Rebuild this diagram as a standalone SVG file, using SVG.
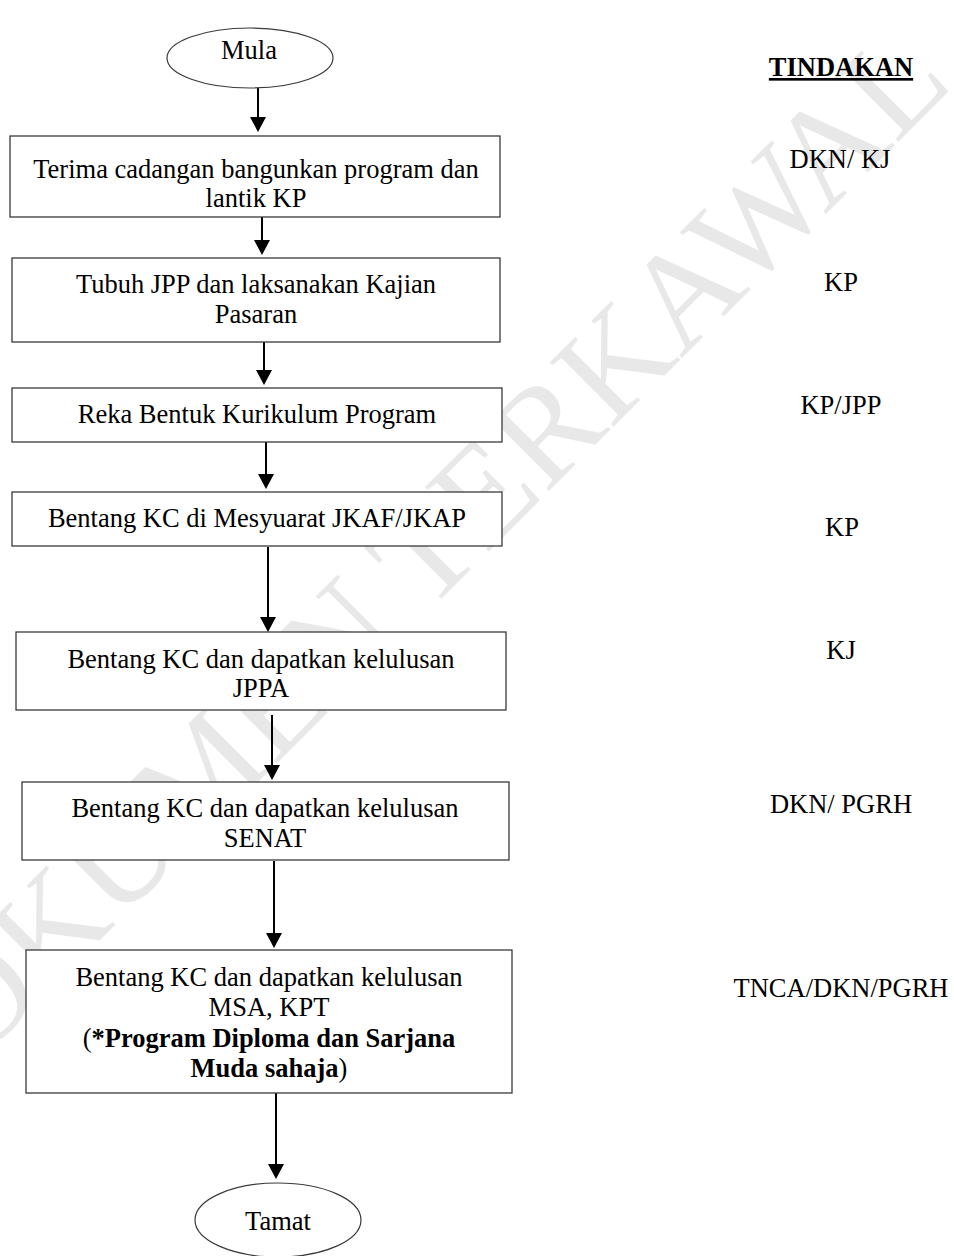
<svg xmlns="http://www.w3.org/2000/svg" width="954" height="1256" viewBox="0 0 954 1256">
<style>
text{font-family:"Liberation Serif","Times New Roman",serif;font-size:26.5px;fill:#000;text-anchor:middle}
.wm{font-size:138px;fill:#e8e8e8;text-anchor:start}
.box{fill:#fff;stroke:#3a3a3a;stroke-width:1.3}
.term{fill:#fff;stroke:#3a3a3a;stroke-width:1.2}
.conn line{stroke:#000;stroke-width:2}
.conn polygon{fill:#000}
.b{font-weight:bold}
</style>
<rect width="954" height="1256" fill="#fff"/>
<text class="wm" transform="translate(-95,1135) rotate(-45)">DOKUMEN TERKAWAL</text>

<g id="connectors" class="conn">
<line x1="258" y1="88" x2="258" y2="118"/><polygon points="250,117 266,117 258,132"/>
<line x1="262" y1="217" x2="262" y2="241"/><polygon points="254,240 270,240 262,255"/>
<line x1="264" y1="342" x2="264" y2="371"/><polygon points="256,370 272,370 264,385"/>
<line x1="266" y1="442" x2="266" y2="475"/><polygon points="258,474 274,474 266,489"/>
<line x1="268" y1="547" x2="268" y2="618"/><polygon points="260,617 276,617 268,632"/>
<line x1="272" y1="715" x2="272" y2="766"/><polygon points="264,765 280,765 272,780"/>
<line x1="274" y1="861" x2="274" y2="934"/><polygon points="266,933 282,933 274,948"/>
<line x1="276" y1="1093" x2="276" y2="1165"/><polygon points="268,1164 284,1164 276,1179"/>
</g>

<g id="mula">
<ellipse class="term" cx="250" cy="58" rx="83" ry="30"/>
<text x="249" y="59">Mula</text>
</g>

<g id="step1">
<rect class="box" x="10" y="136" width="490" height="81"/>
<text x="256" y="178">Terima cadangan bangunkan program dan</text>
<text x="256" y="207">lantik KP</text>
</g>

<g id="step2">
<rect class="box" x="12" y="258" width="488" height="84"/>
<text x="256" y="293">Tubuh JPP dan laksanakan Kajian</text>
<text x="256" y="323">Pasaran</text>
</g>

<g id="step3">
<rect class="box" x="12" y="388" width="490" height="54"/>
<text x="257" y="423">Reka Bentuk Kurikulum Program</text>
</g>

<g id="step4">
<rect class="box" x="12" y="492" width="490" height="54"/>
<text x="257" y="527">Bentang KC di Mesyuarat JKAF/JKAP</text>
</g>

<g id="step5">
<rect class="box" x="16" y="632" width="490" height="78"/>
<text x="261" y="668">Bentang KC dan dapatkan kelulusan</text>
<text x="261" y="697">JPPA</text>
</g>

<g id="step6">
<rect class="box" x="22" y="782" width="487" height="78"/>
<text x="265" y="817">Bentang KC dan dapatkan kelulusan</text>
<text x="265" y="847">SENAT</text>
</g>

<g id="step7">
<rect class="box" x="26" y="950" width="486" height="143"/>
<text x="269" y="986">Bentang KC dan dapatkan kelulusan</text>
<text x="269" y="1016">MSA, KPT</text>
<text x="269" y="1047">(<tspan class="b">*Program Diploma dan Sarjana</tspan></text>
<text x="269" y="1077"><tspan class="b">Muda sahaja</tspan>)</text>
</g>

<g id="tamat">
<ellipse class="term" cx="278" cy="1220" rx="83" ry="37"/>
<text x="278" y="1230">Tamat</text>
</g>

<g id="tindakan">
<text class="b" x="841" y="76" text-decoration="underline">TINDAKAN</text>
<text x="840" y="168">DKN/ KJ</text>
<text x="841" y="291">KP</text>
<text x="841" y="414">KP/JPP</text>
<text x="842" y="536">KP</text>
<text x="841" y="659">KJ</text>
<text x="841" y="813">DKN/ PGRH</text>
<text x="841" y="997">TNCA/DKN/PGRH</text>
</g>
</svg>
